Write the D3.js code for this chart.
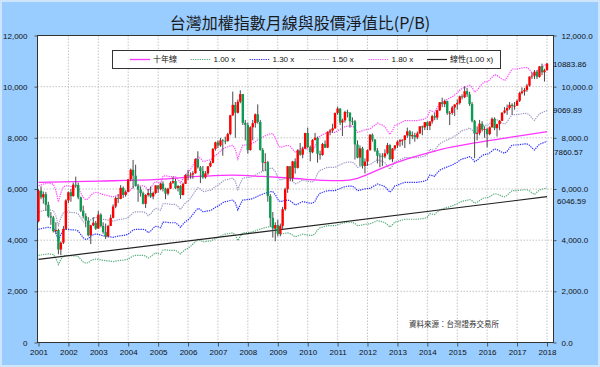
<!DOCTYPE html>
<html>
<head>
<meta charset="utf-8">
<script src="https://cdn.jsdelivr.net/npm/d3@7"></script>
<style>
  html, body { margin: 0; padding: 0; background: #fff; }
  svg { display: block; }
  text { font-family: "Liberation Sans", Arial, "Noto Sans CJK TC", sans-serif; }
</style>
</head>
<body>
<div id="chart"></div>
<script>
// ---- data ----
const title = "台灣加權指數月線與股價淨值比(P/B)";
const sourceNote = "資料來源：台灣證券交易所";
const firstMonth = "2001-01";
const firstOpen = 4740;

const yearLabels = ["2001", "2002", "2003", "2004", "2005", "2006", "2007", "2008", "2009",
  "2010", "2011", "2012", "2013", "2014", "2015", "2016", "2017", "2018"];
const valueTicks = [0, 2000, 4000, 6000, 8000, 10000, 12000];

// monthly TAIEX candles, Jan 2001 .. Jan 2018
const closes = [
  5936, 5674, 5797, 5381, 4935, 4883, 4352, 4395, 3636, 3903, 4441, 5551, // 2001
  5872, 5723, 6167, 6156, 5675, 5153, 4941, 4764, 4191, 4579, 4679, 4452, // 2002
  5000, 4556, 4321, 4148, 4555, 4872, 5318, 5650, 5611, 6045, 5771, 5891, // 2003
  6375, 6751, 6522, 6118, 5977, 5840, 5420, 5766, 5845, 5706, 5844, 6140, // 2004
  5994, 6207, 6006, 5819, 6012, 6242, 6311, 6033, 6119, 5764, 6203, 6548, // 2005
  6532, 6562, 6614, 7171, 6846, 6704, 6455, 6611, 6884, 7021, 7567, 7823, // 2006
  7699, 7901, 7884, 7875, 8145, 8883, 9287, 8982, 9411, 9711, 8586, 8506, // 2007
  7521, 8412, 8572, 8920, 8619, 7524, 7024, 7046, 5719, 4870, 4460, 4591, // 2008
  4248, 4557, 5210, 5992, 6890, 6432, 7078, 6826, 7509, 7340, 7582, 8188, // 2009
  7640, 7436, 7920, 8004, 7374, 7329, 7760, 7616, 8238, 8287, 8372, 8972, // 2010
  9145, 8600, 8683, 9008, 8988, 8653, 8644, 7741, 7225, 7588, 6904, 7072, // 2011
  7517, 8121, 7933, 7501, 7301, 7296, 7270, 7397, 7716, 7166, 7581, 7700, // 2012
  7850, 7907, 7919, 8094, 8254, 8062, 8107, 8022, 8174, 8450, 8407, 8612, // 2013
  8462, 8640, 8849, 8791, 9075, 9393, 9315, 9436, 8966, 8974, 9187, 9307, // 2014
  9361, 9622, 9586, 9820, 9701, 9323, 8665, 8174, 8181, 8554, 8320, 8338, // 2015
  8145, 8411, 8744, 8377, 8536, 8666, 8985, 9068, 9166, 9290, 9240, 9254, // 2016
  9448, 9750, 9812, 9872, 10040, 10395, 10427, 10585, 10384, 10794, 10560, 10643, // 2017
  10900 // 2018
];
const highs = [
  5990, 6104, 5900, 5880, 5500, 5100, 4950, 4700, 4450, 3950, 4550, 5600,
  5900, 6000, 6250, 6484, 6250, 5700, 5350, 5050, 4900, 4600, 4900, 4750,
  5141, 5050, 4700, 4650, 4600, 5000, 5400, 5700, 5800, 6150, 6100, 5950,
  6400, 6800, 7135, 6950, 6200, 6100, 5900, 5800, 6000, 6100, 5900, 6150,
  6150, 6250, 6300, 6050, 6050, 6300, 6480, 6400, 6150, 6150, 6250, 6580,
  6750, 6650, 6700, 7200, 7474, 6900, 6900, 6700, 6900, 7100, 7600, 7850,
  7900, 8000, 7950, 8050, 8200, 8900, 9807, 9400, 9500, 9859, 9700, 8700,
  8600, 8450, 8700, 8950, 9309, 8700, 7600, 7400, 7100, 5800, 5100, 4700,
  4800, 4650, 5300, 6050, 6900, 6900, 7100, 7200, 7550, 7800, 7650, 8200,
  8400, 7700, 7950, 8190, 8050, 7500, 7800, 7900, 8250, 8350, 8550, 8990,
  9220, 9150, 8750, 9060, 9100, 8990, 8800, 8700, 7900, 7700, 7650, 7200,
  7550, 8150, 8170, 7950, 7600, 7400, 7400, 7550, 7800, 7750, 7600, 7720,
  7900, 7950, 7950, 8100, 8400, 8300, 8250, 8200, 8250, 8450, 8480, 8620,
  8650, 8650, 8900, 8980, 9100, 9400, 9570, 9500, 9450, 9050, 9250, 9300,
  9500, 9650, 9700, 10014, 9950, 9800, 9400, 8700, 8450, 8700, 8650, 8450,
  8400, 8450, 8800, 8800, 8550, 8700, 9000, 9200, 9300, 9400, 9350, 9400,
  9500, 9800, 9970, 9950, 10110, 10400, 10560, 10650, 10650, 10800, 10900, 10700,
  10930
];
const lows = [
  4700, 5600, 5430, 5150, 4880, 4600, 4300, 4250, 3450, 3411, 3850, 4400,
  5450, 5500, 5700, 6050, 5600, 5100, 4850, 4500, 4150, 3850, 4550, 4400,
  4450, 4500, 4250, 4044, 4100, 4550, 4850, 5250, 5450, 5600, 5650, 5700,
  5890, 6300, 6020, 6100, 5500, 5700, 5400, 5255, 5700, 5650, 5600, 5800,
  5850, 5950, 5900, 5600, 5750, 6000, 6200, 6000, 5900, 5618, 5750, 6200,
  6350, 6400, 6400, 6600, 6800, 6232, 6400, 6400, 6550, 6850, 7000, 7500,
  7600, 7650, 7300, 7750, 7850, 8100, 8850, 8000, 8950, 9350, 8500, 7900,
  7384, 7500, 7900, 8400, 8550, 7500, 6700, 6700, 5500, 4530, 4100, 3955,
  4150, 4150, 4450, 5150, 5850, 6300, 6300, 6600, 6800, 7300, 7200, 7550,
  7600, 7080, 7400, 7900, 7032, 7150, 7300, 7600, 7600, 8100, 8200, 8350,
  8900, 8500, 8070, 8600, 8800, 8400, 8500, 7150, 7200, 6900, 6800, 6609,
  6900, 7500, 7850, 7450, 7000, 6850, 6900, 7200, 7350, 7130, 7050, 7500,
  7600, 7650, 7700, 7600, 8000, 7750, 7950, 7850, 7950, 8150, 8100, 8300,
  8300, 8300, 8550, 8700, 8700, 9050, 9200, 9200, 8900, 8500, 8900, 8850,
  9100, 9300, 9500, 9550, 9600, 9250, 8600, 7203, 7900, 8100, 8250, 8000,
  7627, 8100, 8400, 8300, 8050, 8300, 8650, 8950, 8900, 9100, 8900, 9100,
  9250, 9400, 9700, 9650, 9800, 10000, 10300, 10300, 10300, 10350, 10450, 10200,
  10630
];

// 1.00x P/B line (index / P/B), monthly
const bookValue = [
  3404, 3420, 3440, 3450, 3464, 3450, 3440, 3300, 3050, 3250, 3380, 3404, // 2001
  3400, 3390, 3385, 3382, 3350, 3250, 3150, 3100, 3120, 3200, 3240, 3262, // 2002
  3250, 3230, 3210, 3202, 3190, 3175, 3163, 3180, 3200, 3210, 3220, 3232, // 2003
  3260, 3320, 3380, 3404, 3404, 3404, 3404, 3380, 3302, 3350, 3440, 3494, // 2004
  3480, 3450, 3614, 3620, 3610, 3600, 3600, 3600, 3540, 3464, 3560, 3640, // 2005
  3684, 3760, 3850, 3950, 4035, 4000, 3934, 3940, 3960, 3964, 4010, 4065, // 2006
  4100, 4150, 4200, 4235, 4250, 4270, 4285, 4200, 3985, 4150, 4285, 4290, // 2007
  4300, 4306, 4330, 4360, 4400, 4435, 4460, 4490, 4510, 4535, 4535, 4450, // 2008
  4300, 4235, 4250, 4270, 4285, 4260, 4200, 4135, 4160, 4200, 4235, 4220, // 2009
  4200, 4190, 4186, 4250, 4400, 4486, 4510, 4540, 4565, 4565, 4565, 4565, // 2010
  4600, 4630, 4660, 4685, 4700, 4700, 4700, 4650, 4565, 4580, 4600, 4620, // 2011
  4630, 4636, 4680, 4720, 4766, 4740, 4720, 4685, 4600, 4516, 4600, 4715, // 2012
  4730, 4760, 4790, 4817, 4817, 4817, 4817, 4817, 4817, 4830, 4840, 4856, // 2013
  4900, 5037, 5020, 5000, 5100, 5180, 5217, 5250, 5280, 5310, 5337, 5380, // 2014
  5420, 5480, 5520, 5538, 5560, 5588, 5540, 5438, 5480, 5550, 5620, 5658, // 2015
  5658, 5700, 5760, 5819, 5800, 5760, 5720, 5689, 5750, 5850, 5939, 5939, // 2016
  5939, 5950, 5960, 5970, 5970, 5930, 5850, 5788, 5880, 5960, 5990, 6020, // 2017
  6046.59 // 2018
];
const bandNames = ["1.00 x", "1.30 x", "1.50 x", "1.80 x"];
const bandMultiples = [1.0, 1.3, 1.5, 1.8];

// 十年線 (10-year moving average), read at intervals
const maMonths = ["2001-01", "2003-01", "2005-01", "2006-07", "2007-07", "2008-07", "2009-07",
  "2010-07", "2011-03", "2011-09", "2012-03", "2012-09", "2013-05", "2014-01", "2014-07",
  "2015-08", "2016-09", "2018-01"];
const maValues = [6262, 6310, 6380, 6500, 6540, 6490, 6420, 6340, 6330, 6420, 6650, 6900,
  7180, 7400, 7560, 7800, 8000, 8240];

// 線性(1.00 x) trend line end points
const trendMonths = ["2001-01", "2018-01"];
const trendValues = [3250, 5700];

// ---- layout ----
const W = 600, H = 367;
const plot = { left: 37.5, right: 553.5, top: 35.5, bottom: 342.5 };

const parseMonth = d3.utcParse("%Y-%m");
const start = parseMonth(firstMonth);
const monthDate = (i) => d3.utcMonth.offset(start, i);

const svg = d3.select("#chart").append("svg")
  .attr("width", W).attr("height", H)
  .attr("viewBox", `0 0 ${W} ${H}`);

svg.append("rect")
  .attr("x", 1).attr("y", 1).attr("width", W - 2).attr("height", H - 2)
  .attr("fill", "#99ccff").attr("stroke", "#cfe5fb").attr("stroke-width", 2);

svg.append("rect")
  .attr("x", plot.left).attr("y", plot.top)
  .attr("width", plot.right - plot.left).attr("height", plot.bottom - plot.top)
  .attr("fill", "#fff");

const x = d3.scaleUtc()
  .domain([parseMonth("2001-01"), parseMonth("2018-01")])
  .range([38.5, 547]);

const y = d3.scaleLinear()
  .domain([0, 12000])
  .range([plot.bottom, plot.top]);

// grid
const grid = svg.append("g");
grid.selectAll("line.v")
  .data(yearLabels.slice(1))
  .join("line")
  .attr("x1", (d) => x(parseMonth(d + "-01"))).attr("x2", (d) => x(parseMonth(d + "-01")))
  .attr("y1", plot.top).attr("y2", plot.bottom)
  .attr("stroke", "#c4c4c4").attr("stroke-dasharray", "1.5,1.5");
grid.selectAll("line.h")
  .data(valueTicks.slice(1, -1))
  .join("line")
  .attr("x1", plot.left).attr("x2", plot.right)
  .attr("y1", (d) => y(d)).attr("y2", (d) => y(d))
  .attr("stroke", "#c4c4c4").attr("stroke-dasharray", "1.5,1.5");

// axes
const axisLeft = d3.axisLeft(y).tickValues(valueTicks).tickSize(3).tickFormat(d3.format(","));
const axisRight = d3.axisRight(y).tickValues(valueTicks).tickSize(3).tickFormat(d3.format(",.1f"));
const axisBottom = d3.axisBottom(x)
  .tickValues(yearLabels.map((d) => parseMonth(d + "-01")))
  .tickSize(4).tickFormat(d3.utcFormat("%Y"));

const gl = svg.append("g").attr("transform", `translate(${plot.left},0)`).call(axisLeft);
gl.selectAll("text").attr("x", -10);
const gr = svg.append("g").attr("transform", `translate(${plot.right},0)`).call(axisRight);
gr.selectAll("text").attr("x", 8);
const gb = svg.append("g").attr("transform", `translate(0,${plot.bottom})`).call(axisBottom);
gb.selectAll("text").attr("y", 7);

svg.selectAll(".domain").remove();
svg.selectAll(".tick line").attr("stroke", "#555");
svg.selectAll(".tick text").attr("fill", "#111").style("font-size", "8px");

svg.append("rect")
  .attr("x", plot.left).attr("y", plot.top)
  .attr("width", plot.right - plot.left).attr("height", plot.bottom - plot.top)
  .attr("fill", "none").attr("stroke", "#333").attr("stroke-width", 1);

// P/B band lines
const bandColors = ["#5aae7c", "#2f2fff", "#9a9ac6", "#ff4dff"];
const bandDash = "1.3,1";
const lineGen = d3.line().x((d) => x(d.date)).y((d) => y(d.value));
const bands = svg.append("g");
bandMultiples.forEach((m, k) => {
  const pts = bookValue.map((v, i) => ({ date: monthDate(i), value: v * m }));
  bands.append("path")
    .attr("d", lineGen(pts))
    .attr("fill", "none")
    .attr("stroke", bandColors[k])
    .attr("stroke-width", 1.2)
    .attr("stroke-dasharray", bandDash);
});

// 10 year line
svg.append("path")
  .attr("d", d3.line().curve(d3.curveMonotoneX).x((d) => x(d.date)).y((d) => y(d.value))(
    maMonths.map((m, i) => ({ date: parseMonth(m), value: maValues[i] }))))
  .attr("fill", "none").attr("stroke", "#ff33ff").attr("stroke-width", 1.3);

// trend
svg.append("path")
  .attr("d", lineGen(trendMonths.map((m, i) => ({ date: parseMonth(m), value: trendValues[i] }))))
  .attr("fill", "none").attr("stroke", "#222").attr("stroke-width", 1.2);

// candles
const candles = closes.map((c, i) => ({
  date: monthDate(i),
  open: i === 0 ? firstOpen : closes[i - 1],
  high: highs[i], low: lows[i], close: c,
}));
const cg = svg.append("g");
cg.selectAll("line")
  .data(candles)
  .join("line")
  .attr("x1", (d) => x(d.date)).attr("x2", (d) => x(d.date))
  .attr("y1", (d) => y(d.high)).attr("y2", (d) => y(d.low))
  .attr("stroke", "#4a4a4a").attr("stroke-width", 1);
cg.selectAll("rect")
  .data(candles)
  .join("rect")
  .attr("x", (d) => x(d.date) - 1.2)
  .attr("width", 2.4)
  .attr("y", (d) => y(Math.max(d.open, d.close)))
  .attr("height", (d) => Math.max(0.8, Math.abs(y(d.open) - y(d.close))))
  .attr("fill", (d) => (d.close >= d.open ? "#ff0000" : "#0e9a52"));

// end labels of the bands
const lastI = bookValue.length - 1;
const labelShift = [[10, 13], [7, 11], [6, 0], [6, 0]];
const fmt2 = (v) => (Math.round(v * 100 + 1e-6) / 100).toFixed(2);
bandMultiples.forEach((m, k) => {
  const v = bookValue[lastI] * m;
  svg.append("text")
    .attr("x", x(monthDate(lastI)) + labelShift[k][0])
    .attr("y", y(v) + labelShift[k][1])
    .attr("dy", "0.35em")
    .style("font-size", "8px").attr("fill", "#111")
    .text(fmt2(v));
});

// title
svg.append("text")
  .attr("x", 300).attr("y", 29)
  .attr("text-anchor", "middle")
  .style("font-family", "'Noto Sans CJK TC', sans-serif")
  .style("font-size", "16px").attr("fill", "#1a1a1a")
  .text(title);

// legend
const legend = svg.append("g");
legend.append("rect")
  .attr("x", 112.5).attr("y", 50.5).attr("width", 388).attr("height", 18)
  .attr("fill", "#fff").attr("stroke", "#333");
const legendItems = [
  { name: "十年線", color: "#ff33ff", dash: null, width: 1.3, x: 130 },
  { name: bandNames[0], color: bandColors[0], dash: bandDash, width: 1.2, x: 190.5 },
  { name: bandNames[1], color: bandColors[1], dash: bandDash, width: 1.2, x: 249.5 },
  { name: bandNames[2], color: bandColors[2], dash: bandDash, width: 1.2, x: 309 },
  { name: bandNames[3], color: bandColors[3], dash: bandDash, width: 1.2, x: 368.5 },
  { name: "線性(1.00 x)", color: "#222", dash: null, width: 1.2, x: 427 },
];
legendItems.forEach((d) => {
  legend.append("line")
    .attr("x1", d.x).attr("x2", d.x + 20).attr("y1", 59.5).attr("y2", 59.5)
    .attr("stroke", d.color).attr("stroke-width", d.width)
    .attr("stroke-dasharray", d.dash);
  legend.append("text")
    .attr("x", d.x + 23).attr("y", 59.5).attr("dy", "0.35em")
    .style("font-size", "8px").attr("fill", "#111")
    .text(d.name);
});

// source note
svg.append("text")
  .attr("x", 499).attr("y", 327).attr("text-anchor", "end")
  .style("font-family", "'Noto Sans CJK TC', sans-serif")
  .style("font-size", "7.5px").attr("fill", "#333")
  .text(sourceNote);
</script>
</body>
</html>
